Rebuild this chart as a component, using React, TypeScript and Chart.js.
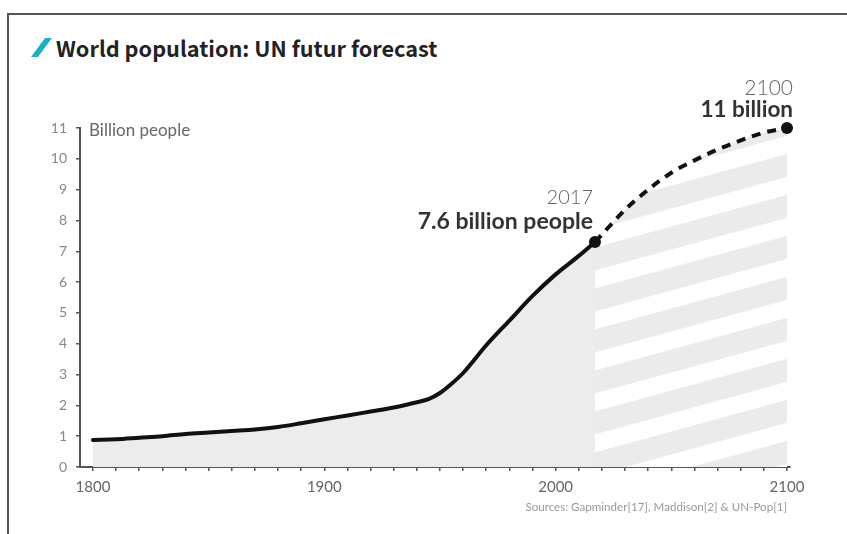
import React, { useEffect, useRef } from "react";
import { Chart, registerables } from "chart.js";

Chart.register(...registerables);

// ---- data ----
const historyYears = [1800, 1810, 1820, 1830, 1840, 1850, 1860, 1870, 1880, 1890, 1900, 1910, 1920, 1930, 1940, 1945, 1950, 1955, 1960, 1970, 1980, 1990, 2000, 2010, 2017];
const historyValues = [0.88, 0.9, 0.95, 1.0, 1.07, 1.12, 1.17, 1.22, 1.3, 1.42, 1.55, 1.67, 1.8, 1.93, 2.1, 2.2, 2.4, 2.7, 3.05, 3.95, 4.75, 5.55, 6.25, 6.85, 7.3];
const forecastYears = [2017, 2025, 2030, 2040, 2050, 2060, 2070, 2080, 2090, 2100];
const forecastValues = [7.3, 7.95, 8.35, 9.0, 9.55, 9.95, 10.3, 10.6, 10.85, 11.0];
const markerYears = [2017, 2100];
const markerValues = [7.3, 11.0];
const xTickYears = [1800, 1810, 1820, 1830, 1840, 1850, 1860, 1870, 1880, 1890, 1900, 1910, 1920, 1930, 1940, 1950, 1960, 1970, 1980, 1990, 2000, 2010, 2020, 2030, 2040, 2050, 2060, 2070, 2080, 2090, 2100];
const yTicks = [0, 1, 2, 3, 4, 5, 6, 7, 8, 9, 10, 11];

const titleText = "World population: UN futur forecast";
const yAxisTitle = "Billion people";
const note2017Year = "2017";
const note2017Text = "7.6 billion people";
const note2100Year = "2100";
const note2100Text = "11 billion";
const sourceText = "Sources: Gapminder[17], Maddison[2] & UN-Pop[1]";

const FONT = "Lato, 'Open Sans', sans-serif";

function makeStripePattern(ctx: CanvasRenderingContext2D): CanvasPattern | string {
  const W = 150;
  const H = 41;
  const g = 23;
  const c = document.createElement("canvas");
  c.width = W;
  c.height = H;
  const p = c.getContext("2d");
  if (!p) return "#ebebeb";
  p.fillStyle = "#ffffff";
  p.fillRect(0, 0, W, H);
  p.fillStyle = "#ebebeb";
  for (let k = -1; k <= 2; k++) {
    const y0 = k * H;
    p.beginPath();
    p.moveTo(0, y0);
    p.lineTo(W, y0 - H);
    p.lineTo(W, y0 - H + g);
    p.lineTo(0, y0 + g);
    p.closePath();
    p.fill();
  }
  return ctx.createPattern(c, "repeat") || "#ebebeb";
}

const textPlugin = {
  id: "textPlugin",
  afterDraw(chart: any) {
    const { ctx, chartArea, scales } = chart;
    const xs = scales.x;
    const ys = scales.y;
    ctx.save();
    ctx.textBaseline = "middle";

    // axis title
    ctx.fillStyle = "#666";
    ctx.textAlign = "left";
    ctx.font = `17px ${FONT}`;
    ctx.fillText(yAxisTitle, chartArea.left + 9, ys.getPixelForValue(11) + 3);

    // 2017 annotation
    const x17 = xs.getPixelForValue(markerYears[0]);
    const y17 = ys.getPixelForValue(markerValues[0]);
    ctx.textAlign = "right";
    ctx.fillStyle = "#666";
    ctx.font = `300 20px ${FONT}`;
    ctx.fillText(note2017Year, x17 - 2, y17 - 44);
    ctx.fillStyle = "#333";
    ctx.font = `bold 23px ${FONT}`;
    ctx.fillText(note2017Text, x17 - 2, y17 - 20);

    // 2100 annotation
    const x21 = xs.getPixelForValue(markerYears[1]);
    const y21 = ys.getPixelForValue(markerValues[1]);
    ctx.fillStyle = "#666";
    ctx.font = `300 21px ${FONT}`;
    ctx.fillText(note2100Year, x21 + 6, y21 - 40);
    ctx.fillStyle = "#333";
    ctx.font = `bold 22.5px ${FONT}`;
    ctx.fillText(note2100Text, x21 + 6, y21 - 18);

    // source
    ctx.fillStyle = "#999";
    ctx.font = `11.6px ${FONT}`;
    ctx.fillText(sourceText, x21, chartArea.bottom + 40);
    ctx.restore();
  },
};

export default function App() {
  const canvasRef = useRef<HTMLCanvasElement | null>(null);

  useEffect(() => {
    const canvas = canvasRef.current;
    if (!canvas) return;
    const ctx = canvas.getContext("2d");
    if (!ctx) return;
    const pattern = makeStripePattern(ctx);

    const chart = new Chart(ctx, {
      type: "line",
      data: {
        datasets: [
          {
            label: "History",
            data: historyYears.map((x, i) => ({ x, y: historyValues[i] })),
            borderColor: "#111",
            borderWidth: 4,
            pointRadius: 0,
            fill: "origin",
            backgroundColor: "#ececec",
            cubicInterpolationMode: "monotone",
            borderCapStyle: "round",
            order: 2,
          } as any,
          {
            label: "Forecast",
            data: forecastYears.map((x, i) => ({ x, y: forecastValues[i] })),
            borderColor: "#111",
            borderWidth: 4,
            borderDash: [9, 7],
            pointRadius: 0,
            fill: "origin",
            backgroundColor: pattern,
            cubicInterpolationMode: "monotone",
            clip: false,
            order: 1,
          } as any,
          {
            label: "Markers",
            data: markerYears.map((x, i) => ({ x, y: markerValues[i] })),
            showLine: false,
            pointRadius: 6,
            pointStyle: "circle",
            pointBackgroundColor: "#111",
            pointBorderColor: "#111",
            pointBorderWidth: 0,
            clip: false,
            order: 0,
          } as any,
        ],
      },
      options: {
        animation: false,
        responsive: false,
        maintainAspectRatio: false,
        layout: { padding: { top: 128, right: 57, bottom: 27, left: 0 } },
        plugins: {
          legend: { display: false },
          tooltip: { enabled: false },
          title: { display: false },
        },
        scales: {
          x: {
            type: "linear",
            min: 1794.4,
            max: 2101.3,
            afterBuildTicks: (scale: any) => {
              scale.ticks = xTickYears.map((v) => ({ value: v }));
            },
            afterFit: (scale: any) => {
              scale.height = 40;
            },
            grid: {
              drawOnChartArea: false,
              drawTicks: true,
              tickLength: 4,
              color: "#555",
              lineWidth: 1.5,
            },
            border: { display: true, color: "#555", width: 2 },
            ticks: {
              autoSkip: false,
              maxRotation: 0,
              padding: 7,
              color: "#666",
              font: { family: FONT, size: 15 },
              callback: (v: any) => (Number(v) % 100 === 0 ? String(v) : ""),
            },
          },
          y: {
            type: "linear",
            min: 0,
            max: 11,
            afterBuildTicks: (scale: any) => {
              scale.ticks = yTicks.map((v) => ({ value: v }));
            },
            afterFit: (scale: any) => {
              scale.width = 80;
            },
            grid: {
              drawOnChartArea: false,
              drawTicks: true,
              tickLength: 4,
              color: "#555",
              lineWidth: 1.5,
            },
            border: { display: true, color: "#555", width: 2 },
            ticks: {
              padding: 9,
              color: "#888",
              font: { family: FONT, size: 14 },
            },
          },
        },
      },
      plugins: [textPlugin],
    });
    return () => chart.destroy();
  }, []);

  return (
    <div style={{ position: "absolute", left: 0, top: 0, width: 847, height: 534, background: "#fff", overflow: "hidden" }}>
      <div style={{ position: "absolute", left: 7, top: 13, width: 840, height: 2, background: "#555" }} />
      <div style={{ position: "absolute", left: 7, top: 13, width: 1.5, height: 521, background: "#555" }} />
      <svg style={{ position: "absolute", left: 0, top: 0 }} width={60} height={70}>
        <polygon points="45,38 52,38 38,57 31,57" fill="#1bb0c9" />
      </svg>
      <div
        style={{
          position: "absolute",
          left: 56,
          top: 34,
          fontFamily: "'Noto Sans CJK KR', 'Noto Sans', sans-serif",
          fontWeight: 700,
          fontSize: 21.7,
          lineHeight: "28px",
          color: "#222",
          whiteSpace: "nowrap",
        }}
      >
        {titleText}
      </div>
      <canvas ref={canvasRef} width={847} height={534} style={{ position: "absolute", left: 0, top: 0 }} />
    </div>
  );
}
